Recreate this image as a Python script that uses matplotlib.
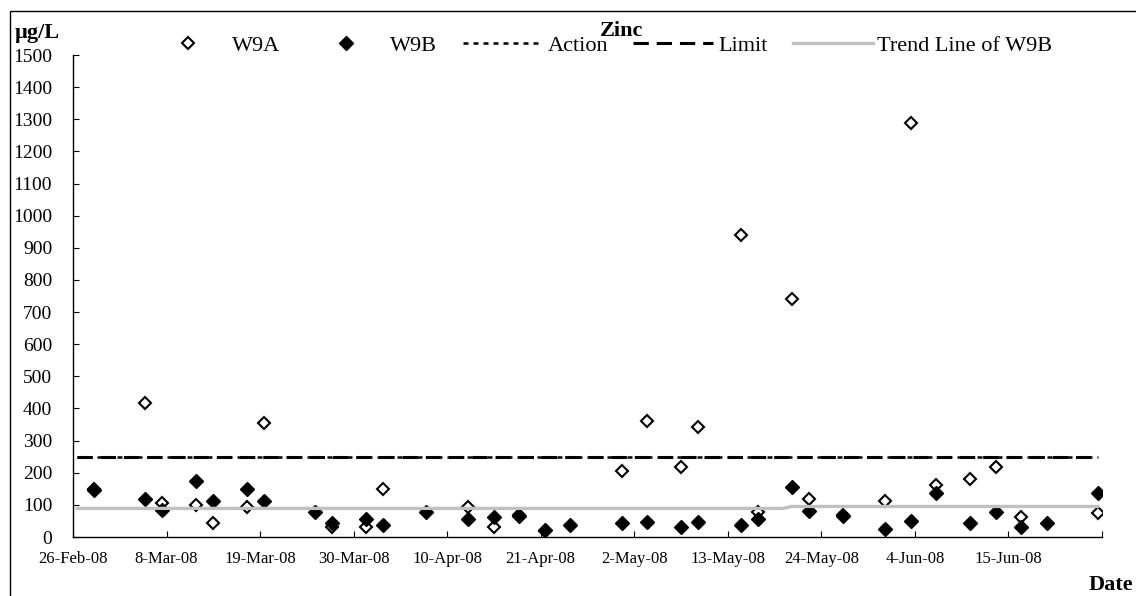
import pandas as pd
import numpy as np
import matplotlib
matplotlib.use('Agg')
import matplotlib.pyplot as plt
from matplotlib.patches import Rectangle

plt.rcParams['font.family'] = ['Liberation Serif', 'DejaVu Serif']

# sampling dates and zinc results (ug/L)
sample_dates = ['2008-02-28', '2008-03-05', '2008-03-07', '2008-03-11', '2008-03-13',
                '2008-03-17', '2008-03-19', '2008-03-25', '2008-03-27', '2008-03-31',
                '2008-04-02', '2008-04-07', '2008-04-12', '2008-04-15', '2008-04-18',
                '2008-04-21', '2008-04-24', '2008-04-30', '2008-05-03', '2008-05-07',
                '2008-05-09', '2008-05-14', '2008-05-16', '2008-05-20', '2008-05-22',
                '2008-05-26', '2008-05-31', '2008-06-03', '2008-06-06', '2008-06-10',
                '2008-06-13', '2008-06-16', '2008-06-19', '2008-06-25']
w9a = [148, 416, 107, 100, 43, 92, 354, np.nan, 30, 30,
       148, np.nan, 92, 30, 68, 20, np.nan, 206, 360, 217,
       342, 940, 78, 740, 118, 67, 112, 1289, 161, 181,
       217, 61, np.nan, 74]
w9b = [145, 118, 84, 174, 112, 149, 112, 79, 45, 56,
       36, 79, 56, 63, 65, 22, 36, 45, 48, 31,
       48, 36, 56, 157, 81, 65, 25, 50, 136, 43,
       79, 31, 43, 136]

# action / limit levels
level_dates = ['2008-02-26', '2008-06-25']
action = [250, 250]
limit = [250, 250]

# trend line of W9B
trend_dates = ['2008-02-26', '2008-05-19', '2008-05-20', '2008-06-25']
trend_vals = [89, 89, 95, 95]

tick_dates = pd.date_range('2008-02-26', '2008-06-26', freq='11D')
tick_labels = ['26-Feb-08', '8-Mar-08', '19-Mar-08', '30-Mar-08', '10-Apr-08', '21-Apr-08',
               '2-May-08', '13-May-08', '24-May-08', '4-Jun-08', '15-Jun-08', '']
x_start, x_end = '2008-02-26', '2008-06-26'
y_ticks = np.arange(0, 1501, 100)

# Excel puts each day's point in the middle of the day
half_day = pd.Timedelta(hours=12)
xs = pd.to_datetime(sample_dates) + half_day
xl = pd.to_datetime(level_dates) + half_day
xt = pd.to_datetime(trend_dates) + half_day

fig = plt.figure(figsize=(11.36, 5.96), dpi=100)
ax = fig.add_axes([73 / 1136, 1 - 537 / 596, 1029 / 1136, 482 / 596])

ax.plot(xs, w9a, linestyle='none', marker='D', markersize=6, markerfacecolor='white',
        markeredgecolor='black', markeredgewidth=1.5, label='W9A', zorder=3)
ax.plot(xs, w9b, linestyle='none', marker='D', markersize=7, color='black',
        label='W9B', zorder=4)
ax.plot(xl, action, color='black', linewidth=1.8, dashes=(2, 2), label='Action', zorder=5)
ax.plot(xl, limit, color='black', linewidth=2.2, dashes=(5, 2.6), label='Limit', zorder=5)
ax.plot(xt, trend_vals, color='#c0c0c0', linewidth=2.4, label='Trend Line of W9B', zorder=6)

ax.set_xlim(pd.Timestamp(x_start), pd.Timestamp(x_end))
ax.set_ylim(0, 1500)
ax.set_xticks(tick_dates)
ax.set_xticklabels(tick_labels)
ax.set_yticks(y_ticks)
for s in ['top', 'right']:
    ax.spines[s].set_visible(False)
ax.spines['left'].set_linewidth(1.0)
ax.spines['bottom'].set_linewidth(1.0)
ax.tick_params(axis='x', direction='in', length=4, labelsize=12, pad=10)
ax.tick_params(axis='y', direction='in', length=4, labelsize=14, pad=15)

fig.text(15 / 1136, 1 - 33 / 596, 'µg/L', fontsize=16, fontweight='bold', ha='left', va='center')
fig.text(1133 / 1136, 1 - 585 / 596, 'Date', fontsize=16, fontweight='bold', ha='right', va='center')
fig.text(622 / 1136, 1 - 31 / 596, 'Zinc', fontsize=16, fontweight='bold', ha='center', va='center')

fig.legend(loc='center', bbox_to_anchor=(600 / 1136, 1 - 46 / 596), ncol=5, frameon=False,
           fontsize=16, handlelength=3.6, handletextpad=0.2, columnspacing=1.15)

# outer chart frame (right and bottom edges fall outside the picture)
fig.patches.append(Rectangle((10 / 1136, -0.01), 1.02 - 10 / 1136, 1.01 - 11 / 596,
                             transform=fig.transFigure, fill=False, edgecolor='black',
                             linewidth=1.0))

fig.savefig('out.png', dpi=100)
